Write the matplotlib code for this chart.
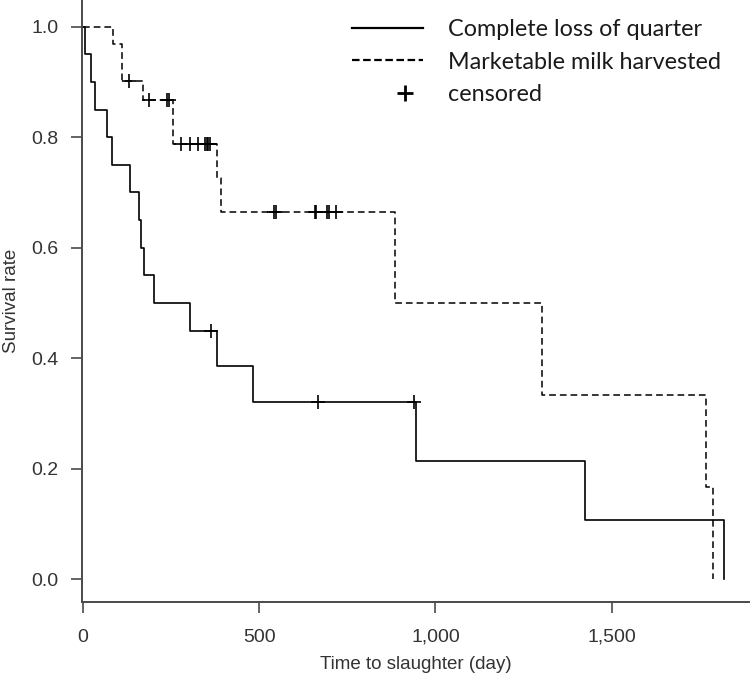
import numpy as np
import matplotlib
matplotlib.use("Agg")
import matplotlib.pyplot as plt
from matplotlib.lines import Line2D
from matplotlib.legend_handler import HandlerLine2D
from matplotlib.ticker import FuncFormatter

# ---- data ----
loss_times = [0, 6, 22, 35, 69, 83, 134, 158, 164, 173, 201, 305, 380, 483, 945, 1424, 1818]
loss_surv = [1.0, 0.95, 0.90, 0.85, 0.80, 0.75, 0.70, 0.65, 0.60, 0.55, 0.50, 0.45, 0.386, 0.321, 0.214, 0.107, 0.0]
loss_cens_t = [363, 667, 940]
loss_cens_s = [0.45, 0.321, 0.321]

milk_times = [0, 85, 111, 171, 255, 379, 391, 884, 1301, 1766, 1786]
milk_surv = [1.0, 0.968, 0.902, 0.867, 0.788, 0.727, 0.665, 0.5, 0.333, 0.167, 0.0]
milk_cens_t = [130, 187, 239, 243, 279, 305, 327, 347, 352, 354, 361, 542, 548, 657, 661, 692, 697, 718]
milk_cens_s = [0.902, 0.867, 0.867, 0.867, 0.788, 0.788, 0.788, 0.788, 0.788, 0.788, 0.788,
               0.665, 0.665, 0.665, 0.665, 0.665, 0.665, 0.665]

x_ticks = [0, 500, 1000, 1500]
y_ticks = [0.0, 0.2, 0.4, 0.6, 0.8, 1.0]
legend_labels = ["Complete loss of quarter", "Marketable milk harvested", "censored"]
x_label = "Time to slaughter (day)"
y_label = "Survival rate"

# ---- figure ----
W, H = 756, 688
fig = plt.figure(figsize=(W / 100, H / 100), dpi=100)
ax = fig.add_axes([82 / W, (H - 602.3) / H, (749 - 82) / W, 602.3 / H])

tick_font = "Liberation Sans"
spine_col = "#4a4a4a"
text_col = "#333333"

dash = (0, (4.4, 2.6))
ax.step(loss_times, loss_surv, where="post", color="black", lw=1.2)
ax.step(milk_times, milk_surv, where="post", color="black", lw=1.1, linestyle=dash)
ax.plot(loss_cens_t, loss_cens_s, linestyle="none", marker="+", ms=10.5, mew=1.2, color="black")
ax.plot(milk_cens_t, milk_cens_s, linestyle="none", marker="+", ms=10.5, mew=1.2, color="black")

ax.set_xlim(-2.8, 1889.4)
ax.set_ylim(-0.0416, 1.0483)

for s in ("top", "right"):
    ax.spines[s].set_visible(False)
for s in ("left", "bottom"):
    ax.spines[s].set_color(spine_col)
    ax.spines[s].set_linewidth(1.4)

ax.set_xticks(x_ticks)
ax.set_yticks(y_ticks)
ax.xaxis.set_major_formatter(FuncFormatter(lambda v, p: f"{int(v):,}"))
ax.yaxis.set_major_formatter(FuncFormatter(lambda v, p: f"{v:.1f}"))
ax.tick_params(axis="both", direction="out", length=8, width=1.2, color=spine_col,
               labelsize=14, labelcolor=text_col)
ax.tick_params(axis="x", pad=11)
ax.tick_params(axis="y", pad=9)
for lab in ax.get_xticklabels() + ax.get_yticklabels():
    lab.set_fontfamily(tick_font)

ax.set_xlabel(x_label, fontsize=13.5, color=text_col, fontfamily=tick_font)
ax.set_ylabel(y_label, fontsize=13.5, color=text_col, fontfamily=tick_font)
ax.xaxis.set_label_coords(0.5, -0.104)
ax.yaxis.set_label_coords(-0.105, 0.5)
ax.xaxis.label.set_verticalalignment("center")
ax.yaxis.label.set_verticalalignment("center")


class ShiftedMarker(HandlerLine2D):
    def __init__(self, shift_frac=0.25, **kw):
        super().__init__(**kw)
        self.shift_frac = shift_frac

    def create_artists(self, legend, orig_handle, xdescent, ydescent, width, height, fontsize, trans):
        arts = super().create_artists(legend, orig_handle, xdescent, ydescent, width, height, fontsize, trans)
        for a in arts:
            a.set_xdata(np.asarray(a.get_xdata(), dtype=float) + self.shift_frac * width)
        return arts


h_solid = Line2D([], [], color="black", lw=1.6)
h_dash = Line2D([], [], color="black", lw=1.6, linestyle=(0, (3.4, 1.6)))
h_cens = Line2D([], [], color="black", linestyle="none", marker="+", ms=11, mew=2.0)

leg_fs = 16.8
fs_px = leg_fs * 100 / 72
leg = fig.legend([h_solid, h_dash, h_cens], legend_labels,
                 loc="upper left", bbox_to_anchor=(352 / W, 1 - 19 / H),
                 frameon=False, handlelength=71 / fs_px, handletextpad=25 / fs_px,
                 labelspacing=0.5, borderpad=0, borderaxespad=0,
                 prop={"family": "Lato", "size": leg_fs},
                 handler_map={h_cens: ShiftedMarker(shift_frac=0.25, numpoints=1)})
for t in leg.get_texts():
    t.set_color("#1a1a1a")

fig.savefig("out.png", dpi=100)
